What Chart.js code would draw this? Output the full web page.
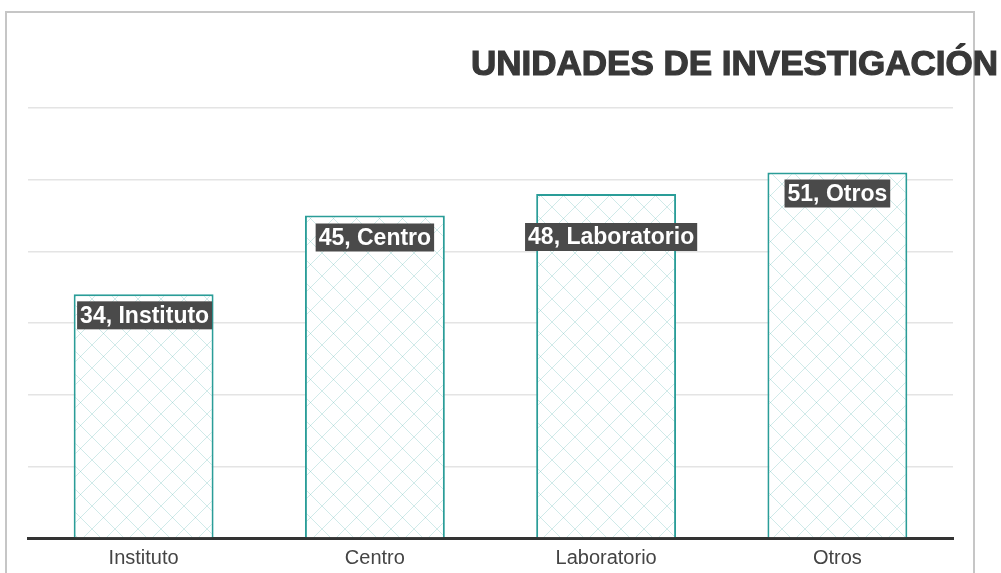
<!DOCTYPE html>
<html>
<head>
<meta charset="utf-8">
<script src="https://cdn.jsdelivr.net/npm/chart.js@4.4.1/dist/chart.umd.min.js"></script>
<style>
  html, body { margin: 0; padding: 0; background: #fff; overflow: hidden; }
  #frame { position: absolute; left: 5px; top: 11px; width: 966px; height: 700px; border: 2px solid #c6c6c6; border-bottom: none; }
  #chart { position: absolute; left: 0; top: 0; }
</style>
</head>
<body>
<div id="frame"></div>
<canvas id="chart" width="1001" height="573"></canvas>
<script>
// datos
const categories = ['Instituto', 'Centro', 'Laboratorio', 'Otros'];
const values = [34, 45, 48, 51];
const yMin = 0;
const yMax = 60;
const yStep = 10;
const chartTitle = 'UNIDADES DE INVESTIGACIÓN';

// trama de rombos para las barras
function makeHatch() {
    const size = 23;
    const c = document.createElement('canvas');
    c.width = size;
    c.height = size;
    const g = c.getContext('2d');
    g.fillStyle = '#ffffff';
    g.fillRect(0, 0, size, size);
    g.strokeStyle = 'rgba(42, 160, 155, 0.22)';
    g.lineWidth = 1;
    g.beginPath();
    g.moveTo(0, 0); g.lineTo(size, size);
    g.moveTo(size, 0); g.lineTo(0, size);
    g.stroke();
    return g.createPattern(c, 'repeat');
}

// etiquetas "valor, categoría" con caja oscura
const boxLabels = {
    id: 'boxLabels',
    afterDatasetsDraw(chart, args, opts) {
        const ctx = chart.ctx;
        const meta = chart.getDatasetMeta(0);
        ctx.save();
        ctx.font = 'bold 23px "Liberation Sans", Arial, sans-serif';
        ctx.textAlign = 'center';
        ctx.textBaseline = 'middle';
        meta.data.forEach((bar, i) => {
            const text = `${values[i]}, ${categories[i]}`;
            const w = ctx.measureText(text).width + 6;
            const h = 28;
            const cx = bar.x + (opts.shiftX[i] || 0);
            const cy = bar.y + opts.drop[i];
            ctx.fillStyle = '#4a4a4a';
            ctx.fillRect(cx - w / 2, cy - h / 2, w, h);
            ctx.fillStyle = '#ffffff';
            ctx.fillText(text, cx, cy + 1);
        });
        ctx.restore();
    }
};

// título a la derecha, cortado por el borde
const rightTitle = {
    id: 'rightTitle',
    afterDraw(chart) {
        const ctx = chart.ctx;
        ctx.save();
        ctx.font = 'bold 35px "Liberation Sans", Arial, sans-serif';
        ctx.textAlign = 'right';
        ctx.textBaseline = 'alphabetic';
        ctx.fillStyle = '#383838';
        ctx.strokeStyle = '#383838';
        ctx.lineWidth = 1.2;
        ctx.fillText(chartTitle, 998, 75);
        ctx.strokeText(chartTitle, 998, 75);
        ctx.restore();
    }
};

const ctx = document.getElementById('chart').getContext('2d');
new Chart(ctx, {
    type: 'bar',
    data: {
        labels: categories,
        datasets: [{
            data: values,
            backgroundColor: makeHatch(),
            borderColor: '#2a9d98',
            borderWidth: 2,
            barPercentage: 0.605,
            categoryPercentage: 1
        }]
    },
    options: {
        responsive: false,
        animation: false,
        layout: { padding: { left: 28, right: 48, top: 108, bottom: -5 } },
        plugins: {
            legend: { display: false },
            title: { display: false },
            tooltip: { enabled: false },
            boxLabels: { drop: [21, 22, 43, 21], shiftX: [1, 0, 5, 0] }
        },
        scales: {
            x: {
                z: 1,
                grid: { display: false, drawTicks: false },
                border: { color: '#333333', width: 3 },
                ticks: {
                    padding: 8,
                    color: '#444444',
                    font: { family: '"Liberation Sans", Arial, sans-serif', size: 20 }
                }
            },
            y: {
                min: yMin,
                max: yMax,
                ticks: { display: false, stepSize: yStep },
                border: { display: false },
                grid: { color: '#e4e4e4', lineWidth: 1.5, drawTicks: false },
                afterFit(scale) { scale.width = 0; }
            }
        }
    },
    plugins: [boxLabels, rightTitle]
});
</script>
</body>
</html>
